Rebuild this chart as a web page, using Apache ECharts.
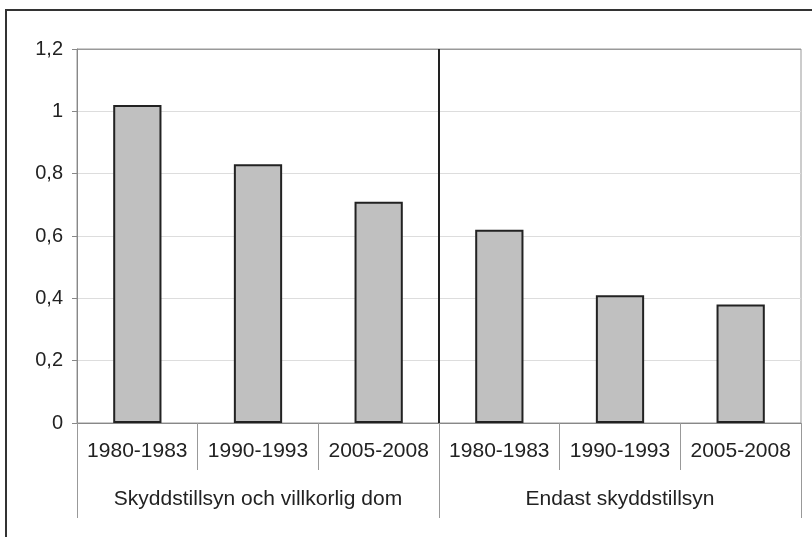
<!DOCTYPE html>
<html>
<head>
<meta charset="utf-8">
<script src="https://cdn.jsdelivr.net/npm/echarts@6/dist/echarts.min.js"></script>
<style>
  html, body { margin: 0; padding: 0; background: #fff; }
  #chart { width: 812px; height: 537px; }
</style>
</head>
<body>
<div id="chart"></div>
<script>
// periods shown under each bar
const periods = ['1980-1983', '1990-1993', '2005-2008', '1980-1983', '1990-1993', '2005-2008'];
// second label row, one per three bars
const groups = ['Skyddstillsyn och villkorlig dom', 'Endast skyddstillsyn'];
const values = [1.02, 0.83, 0.71, 0.62, 0.41, 0.38];

const yMin = 0;
const yMax = 1.2;
const yStep = 0.2;

const textColor = '#222';
const fontFamily = "'Liberation Sans', Arial, sans-serif";

const chart = echarts.init(document.getElementById('chart'));

chart.setOption({
  backgroundColor: '#fff',
  animation: false,
  grid: {
    left: 77, right: 11, top: 49, bottom: 114,
    show: true,
    borderColor: '#999',
    borderWidth: 1
  },
  graphic: [{
    type: 'rect',
    shape: { x: 6, y: 10, width: 1000, height: 1000 },
    style: { fill: 'none', stroke: '#333', lineWidth: 2 },
    silent: true
  }],
  xAxis: [
    {
      type: 'category',
      data: periods,
      position: 'bottom',
      axisLine: { show: true, lineStyle: { color: '#888', width: 1 } },
      axisTick: { show: true, interval: 0, length: 47, lineStyle: { color: '#999' } },
      axisLabel: {
        interval: 0,
        margin: 18,
        fontSize: 21,
        color: textColor,
        fontFamily: fontFamily
      },
      splitLine: { show: false }
    },
    {
      type: 'category',
      data: groups,
      position: 'bottom',
      axisLine: { show: false },
      axisTick: { show: true, interval: 0, length: 95, lineStyle: { color: '#999' } },
      axisLabel: {
        interval: 0,
        margin: 66,
        fontSize: 21,
        color: textColor,
        fontFamily: fontFamily
      },
      splitLine: {
        show: true,
        interval: 0,
        lineStyle: { color: ['rgba(0,0,0,0)', '#222', 'rgba(0,0,0,0)'], width: 2 }
      }
    }
  ],
  yAxis: {
    type: 'value',
    min: yMin,
    max: yMax,
    interval: yStep,
    axisLine: { show: true, lineStyle: { color: '#888', width: 1 } },
    axisTick: { show: true, length: 5, lineStyle: { color: '#888' } },
    axisLabel: {
      margin: 14,
      fontSize: 20,
      color: textColor,
      fontFamily: fontFamily,
      formatter: (v) => String(+v.toFixed(1)).replace('.', ',')
    },
    splitLine: {
      show: true,
      lineStyle: { color: ['#ddd', '#ddd', '#ddd', '#ddd', '#ddd', '#ddd', '#999'], width: 1 }
    }
  },
  series: [{
    type: 'bar',
    xAxisIndex: 0,
    data: values,
    barWidth: '40%',
    itemStyle: {
      color: '#c0c0c0',
      borderColor: '#222',
      borderWidth: 2
    }
  }]
});
</script>
</body>
</html>
